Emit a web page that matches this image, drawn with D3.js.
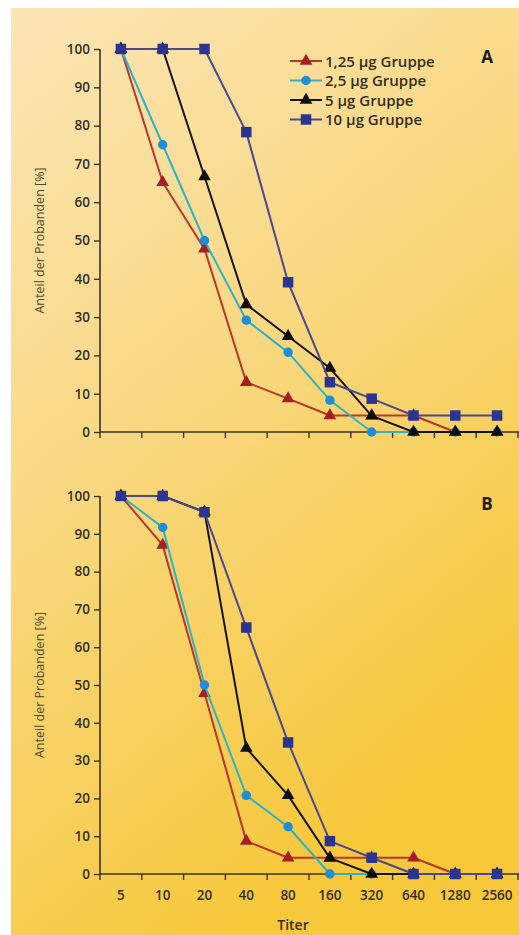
<!DOCTYPE html>
<html>
<head>
<meta charset="utf-8">
<script src="https://cdn.jsdelivr.net/npm/d3@7"></script>
<style>
  html, body { margin: 0; padding: 0; background: #ffffff; }
  svg { display: block; }
  text { font-family: "Open Sans", "DejaVu Sans", sans-serif; }
</style>
</head>
<body>
<svg id="chart" width="519" height="935"></svg>
<script>
// ---- data ----
const titers = ["5", "10", "20", "40", "80", "160", "320", "640", "1280", "2560"];
const seriesNames = ["1,25 µg Gruppe", "2,5 µg Gruppe", "5 µg Gruppe", "10 µg Gruppe"];
const yTicks = [0, 10, 20, 30, 40, 50, 60, 70, 80, 90, 100];

// Panel A
const a_125 = [100, 65.2, 47.8, 13.0, 8.7, 4.3, 4.3, 4.3, 0, 0];
const a_25  = [100, 75.0, 50.0, 29.2, 20.8, 8.3, 0, 0, 0, 0];
const a_5   = [100, 100, 66.7, 33.3, 25.0, 16.7, 4.2, 0, 0, 0];
const a_10  = [100, 100, 100, 78.3, 39.1, 13.0, 8.7, 4.3, 4.3, 4.3];

// Panel B
const b_125 = [100, 87.0, 47.8, 8.7, 4.3, 4.3, 4.3, 4.3, 0, 0];
const b_25  = [100, 91.7, 50.0, 20.8, 12.5, 0, 0, 0, 0, 0];
const b_5   = [100, 100, 95.8, 33.3, 20.8, 4.2, 0, 0, 0, 0];
const b_10  = [100, 100, 95.7, 65.2, 34.8, 8.7, 4.3, 0, 0, 0];

// ---- styles ----
const styles = [
  { line: "#b8372c", fill: "#a51e24", shape: "triangle" },
  { line: "#2fb2c6", fill: "#1e8ed6", shape: "circle" },
  { line: "#141414", fill: "#0c0c0c", shape: "triangle" },
  { line: "#4c4890", fill: "#2a3591", shape: "square" }
];
const axisColor = "#3b3322";
const textColor = "#352f1e";

const svg = d3.select("#chart");

// background
const defs = svg.append("defs");
const grad = defs.append("linearGradient").attr("id", "bg")
  .attr("x1", "0").attr("y1", "0").attr("x2", "0.45").attr("y2", "1");
grad.append("stop").attr("offset", "0").attr("stop-color", "#fbe5b6");
grad.append("stop").attr("offset", "0.45").attr("stop-color", "#f9d985");
grad.append("stop").attr("offset", "1").attr("stop-color", "#f6c83a");
svg.append("rect").attr("x", 11).attr("y", 8).attr("width", 508).attr("height", 927)
  .attr("fill", "url(#bg)");

const x = d3.scaleBand().domain(titers).range([100, 518]).padding(0);

function symbolPath(shape) {
  if (shape === "triangle") return d3.symbol().type(d3.symbolTriangle).size(70)();
  if (shape === "circle") return d3.symbol().type(d3.symbolCircle).size(70)();
  return d3.symbol().type(d3.symbolSquare).size(110)();
}

function panel(top, bottom, data, letter, showLabels) {
  const y = d3.scaleLinear().domain([0, 100]).range([bottom, top]);
  const g = svg.append("g");

  // y axis
  const yAxis = d3.axisLeft(y).tickValues(yTicks).tickSize(6).tickSizeOuter(0).tickPadding(4);
  const ya = g.append("g").attr("transform", "translate(100,0)").call(yAxis);
  ya.select(".domain").attr("stroke", axisColor).attr("stroke-width", 1.6)
    .attr("d", `M0,${y(100)}V${y(0)}`);
  ya.selectAll(".tick line").attr("stroke", axisColor).attr("stroke-width", 1.4);
  ya.selectAll(".tick text").attr("fill", textColor).style("font-size", "13.5px")
    .style("font-weight", "600")
    .style("font-family", "'Open Sans', sans-serif");

  // x axis
  const xAxis = d3.axisBottom(x).tickSize(0).tickPadding(16).tickFormat(d => showLabels ? d : "");
  const xa = g.append("g").attr("transform", `translate(0,${y(0)})`).call(xAxis);
  xa.select(".domain").attr("stroke", axisColor).attr("stroke-width", 1.6)
    .attr("d", `M${x.range()[0]},0H519`);
  xa.selectAll(".tick text").attr("fill", textColor).style("font-size", "13.5px")
    .style("font-weight", "600")
    .style("font-family", "'Open Sans', sans-serif");
  const bounds = titers.map(d => x(d)).concat([x.range()[1]]);
  xa.selectAll(".btick").data(bounds).enter().append("line")
    .attr("class", "btick")
    .attr("x1", d => d).attr("x2", d => d).attr("y1", 0).attr("y2", 6)
    .attr("stroke", axisColor).attr("stroke-width", 1.4);

  // y title
  g.append("text")
    .attr("transform", `translate(44,${(y(0) + y(100)) / 2}) rotate(-90)`)
    .attr("text-anchor", "middle")
    .attr("fill", "#4f482a")
    .style("font-size", "12.5px")
    .text("Anteil der Probanden [%]");

  // series
  const line = d3.line().x((d, i) => x(titers[i]) + x.bandwidth() / 2).y(d => y(d));
  data.forEach((vals, si) => {
    const st = styles[si];
    g.append("path").datum(vals).attr("d", line)
      .attr("fill", "none").attr("stroke", st.line).attr("stroke-width", 2)
      .attr("stroke-linejoin", "round");
    g.selectAll(".m" + si).data(vals).enter().append("path")
      .attr("class", "m" + si)
      .attr("transform", (d, i) => `translate(${x(titers[i]) + x.bandwidth() / 2},${y(d)})`)
      .attr("d", symbolPath(st.shape))
      .attr("fill", st.fill);
  });

  // panel letter
  g.append("text").attr("x", 487).attr("y", top + 14).attr("text-anchor", "middle")
    .attr("fill", "#1c1a12").style("font-size", "17px").style("font-weight", "bold")
    .text(letter);
}

panel(49, 432, [a_125, a_25, a_5, a_10], "A", false);
panel(496, 874, [b_125, b_25, b_5, b_10], "B", true);

// legend (panel A)
const leg = svg.append("g");
seriesNames.forEach((name, i) => {
  const ly = 61 + i * 19.5;
  const st = styles[i];
  leg.append("line").attr("x1", 290).attr("x2", 322).attr("y1", ly).attr("y2", ly)
    .attr("stroke", st.line).attr("stroke-width", 2);
  leg.append("path").attr("transform", `translate(306,${ly})`)
    .attr("d", symbolPath(st.shape)).attr("fill", st.fill);
  leg.append("text").attr("x", 325).attr("y", ly + 5.5)
    .attr("fill", textColor).style("font-size", "15px").style("font-weight", "600")
    .attr("textLength", null)
    .text(name);
});

// x title
svg.append("text").attr("x", 293).attr("y", 930).attr("text-anchor", "middle")
  .attr("fill", textColor).style("font-size", "14px").style("font-weight", "600").text("Titer");
</script>
</body>
</html>
